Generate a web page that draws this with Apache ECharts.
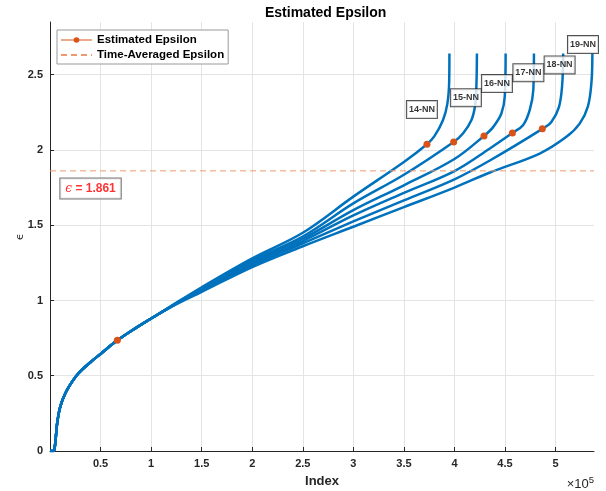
<!DOCTYPE html>
<html>
<head>
<meta charset="utf-8">
<title>Estimated Epsilon</title>
<script src="https://cdn.jsdelivr.net/npm/echarts@6/dist/echarts.min.js"></script>
<style>
  html, body { margin: 0; padding: 0; background: #fff; }
  #chart { width: 606px; height: 491px; }
</style>
</head>
<body>
<div id="chart"></div>
<script>
// index values are in units of 1e5 (axis shows x10^5)
const nnNames = ['14-NN', '15-NN', '16-NN', '17-NN', '18-NN', '19-NN'];

// part shared by every curve
const commonX = [0, 0.03, 0.04, 0.05, 0.06, 0.07, 0.085, 0.1, 0.13, 0.18, 0.28, 0.4, 0.5, 0.666, 0.85, 1.0];
const commonY = [0, 0, 0.005, 0.04, 0.11, 0.18, 0.245, 0.29, 0.35, 0.42, 0.515, 0.59, 0.645, 0.735, 0.818, 0.88];

// where the curves split up
const tailX = [
  [1.2, 1.5, 2.0, 2.5, 3.0, 3.5, 3.728, 3.8, 3.886, 3.93, 3.948, 3.95],
  [1.2, 1.5, 2.0, 2.5, 3.0, 3.5, 3.992, 4.084, 4.167, 4.205, 4.218, 4.222],
  [1.2, 1.5, 2.0, 2.5, 3.0, 3.5, 4.0, 4.292, 4.38, 4.464, 4.498, 4.506],
  [1.2, 1.5, 2.0, 2.5, 3.0, 3.5, 4.0, 4.35, 4.573, 4.678, 4.744, 4.78, 4.786],
  [1.2, 1.5, 2.0, 2.5, 3.0, 3.5, 4.0, 4.35, 4.869, 4.958, 5.034, 5.066, 5.075],
  [1.2, 1.5, 2.0, 2.5, 3.0, 3.5, 4.0, 4.35, 4.843, 5.107, 5.238, 5.32, 5.355, 5.364]
];
const tailY = [
  [0.964, 1.088, 1.28, 1.45, 1.69, 1.92, 2.038, 2.09, 2.197, 2.308, 2.46, 2.64],
  [0.962, 1.082, 1.268, 1.425, 1.645, 1.835, 2.053, 2.109, 2.197, 2.3, 2.45, 2.64],
  [0.961, 1.076, 1.257, 1.41, 1.6, 1.765, 1.94, 2.093, 2.15, 2.242, 2.36, 2.64],
  [0.96, 1.07, 1.245, 1.395, 1.565, 1.715, 1.86, 2.01, 2.113, 2.164, 2.264, 2.4, 2.64],
  [0.959, 1.063, 1.233, 1.38, 1.525, 1.665, 1.805, 1.93, 2.14, 2.186, 2.286, 2.44, 2.64],
  [0.958, 1.057, 1.222, 1.36, 1.49, 1.62, 1.75, 1.85, 1.976, 2.087, 2.175, 2.29, 2.45, 2.64]
];

// estimated epsilon per curve (14-NN ... 19-NN)
const epsX = [3.728, 3.992, 4.292, 4.573, 4.869, 0.666];
const epsY = [2.038, 2.053, 2.093, 2.113, 2.14, 0.735];
const epsAvg = 1.861;

// axis ranges
const xRange = [0, 5.38];
const yRange = [0, 2.85];

// text boxes
const nnLabelX = [3.678, 4.113, 4.42, 4.731, 5.04, 5.271];
const nnLabelY = [2.268, 2.347, 2.441, 2.513, 2.565, 2.70];
const epsBoxPos = [0.401, 1.744];

const font = 'Liberation Sans, Arial, Helvetica, sans-serif';
const ink = '#262626';
const blue = '#0072BD';
const orange = '#D95319';
const dashOrange = '#EE9A70';
const clear = 'rgba(0,0,0,0)';

const chart = echarts.init(document.getElementById('chart'), null, { renderer: 'canvas' });

const curveSeries = nnNames.map((name, i) => ({
  type: 'line',
  name: name,
  data: commonX.map((x, j) => [x, commonY[j]])
    .concat(tailX[i].map((x, j) => [x, tailY[i][j]])),
  showSymbol: false,
  smooth: 0.35,
  lineStyle: { color: blue, width: 2.5 },
  itemStyle: { color: blue },
  silent: true,
  z: 2
}));

chart.setOption({
  animation: false,
  textStyle: { fontFamily: font },
  title: {
    text: 'Estimated Epsilon',
    left: 260,
    top: 1,
    textStyle: { fontSize: 14, fontWeight: 'bold', color: '#000', fontFamily: font }
  },
  legend: {
    data: [
      { name: 'Estimated Epsilon', lineStyle: { opacity: 1, color: orange, width: 1 } },
      { name: 'Time-Averaged Epsilon', itemStyle: { opacity: 0 } }
    ],
    orient: 'vertical',
    left: 57,
    top: 30,
    itemWidth: 31,
    itemHeight: 7,
    itemGap: 3,
    padding: [4, 4, 3, 3],
    borderColor: '#999',
    borderWidth: 1,
    backgroundColor: '#fff',
    textStyle: { fontSize: 11.5, fontWeight: 'bold', color: '#000', fontFamily: font }
  },
  grid: { left: 50, right: 12, top: 22, bottom: 40, outerBoundsMode: 'none' },
  xAxis: {
    type: 'value',
    min: xRange[0],
    max: xRange[1],
    interval: 0.5,
    name: 'Index',
    nameLocation: 'middle',
    nameGap: 24,
    nameTextStyle: { fontSize: 13, fontWeight: 'bold', color: ink, fontFamily: font },
    axisLine: { show: true, lineStyle: { color: ink, width: 1 } },
    axisTick: { show: true, inside: true, length: 4, lineStyle: { color: ink } },
    axisLabel: {
      showMaxLabel: false,
      formatter: v => (v === 0 ? '' : String(v)),
      color: ink, fontSize: 11, fontWeight: 'bold', margin: 7, fontFamily: font
    },
    splitLine: { show: true, showMaxLine: false, lineStyle: { color: '#e4e4e4', width: 1 } }
  },
  yAxis: {
    type: 'value',
    min: yRange[0],
    max: yRange[1],
    interval: 0.5,
    name: 'ϵ',
    nameLocation: 'middle',
    nameGap: 24,
    nameRotate: 90,
    nameMoveOverlap: false,
    nameTextStyle: { fontSize: 11, color: ink, fontFamily: 'DejaVu Sans' },
    axisLine: { show: true, lineStyle: { color: ink, width: 1 } },
    axisTick: { show: true, inside: true, length: 4, lineStyle: { color: ink } },
    axisLabel: {
      showMaxLabel: false,
      color: ink, fontSize: 11, fontWeight: 'bold', margin: 7, fontFamily: font
    },
    splitLine: { show: true, showMaxLine: false, lineStyle: { color: '#e4e4e4', width: 1 } }
  },
  graphic: [{
    type: 'text',
    right: 12,
    top: 475,
    style: {
      text: '×10{s|5}',
      font: '13px ' + font,
      fill: ink,
      rich: { s: { fontSize: 9.5, verticalAlign: 'top', padding: [0, 0, 8, 0], fill: ink } }
    }
  }],
  series: curveSeries.concat([
    {
      type: 'line',
      name: 'Estimated Epsilon',
      data: epsX.map((x, i) => [x, epsY[i]]),
      symbol: 'circle',
      symbolSize: 7,
      showSymbol: true,
      lineStyle: { opacity: 0, color: orange },
      itemStyle: { color: orange },
      z: 6
    },
    {
      type: 'line',
      name: 'Time-Averaged Epsilon',
      data: xRange.map(x => [x, epsAvg]),
      symbol: 'none',
      showSymbol: false,
      lineStyle: { color: dashOrange, type: [6, 4], width: 1 },
      itemStyle: { color: dashOrange },
      silent: true,
      z: 3
    },
    {
      type: 'scatter',
      name: 'nn-labels',
      data: nnLabelX.map((x, i) => [x, nnLabelY[i], nnNames[i]]),
      symbolSize: 1,
      itemStyle: { color: clear },
      silent: true,
      z: 10,
      label: {
        show: true,
        position: 'inside',
        formatter: p => p.data[2],
        fontSize: 9,
        fontWeight: 'bold',
        color: '#000',
        fontFamily: font,
        backgroundColor: '#fff',
        borderColor: ink,
        borderWidth: 1,
        padding: [4, 2, 4, 2]
      }
    },
    {
      type: 'scatter',
      name: 'eps-box',
      data: [epsBoxPos],
      symbolSize: 1,
      itemStyle: { color: clear },
      silent: true,
      z: 10,
      label: {
        show: true,
        position: 'inside',
        formatter: '{e|ϵ}{v| = ' + epsAvg.toFixed(3) + '}',
        backgroundColor: '#fff',
        borderColor: '#555',
        borderWidth: 1,
        padding: [4, 5, 4, 5],
        rich: {
          e: { fontSize: 12, fontStyle: 'italic', color: '#ff0000', fontFamily: 'DejaVu Serif' },
          v: { fontSize: 12, fontWeight: 'bold', color: '#ff0000', fontFamily: font }
        }
      }
    }
  ])
});
</script>
</body>
</html>
